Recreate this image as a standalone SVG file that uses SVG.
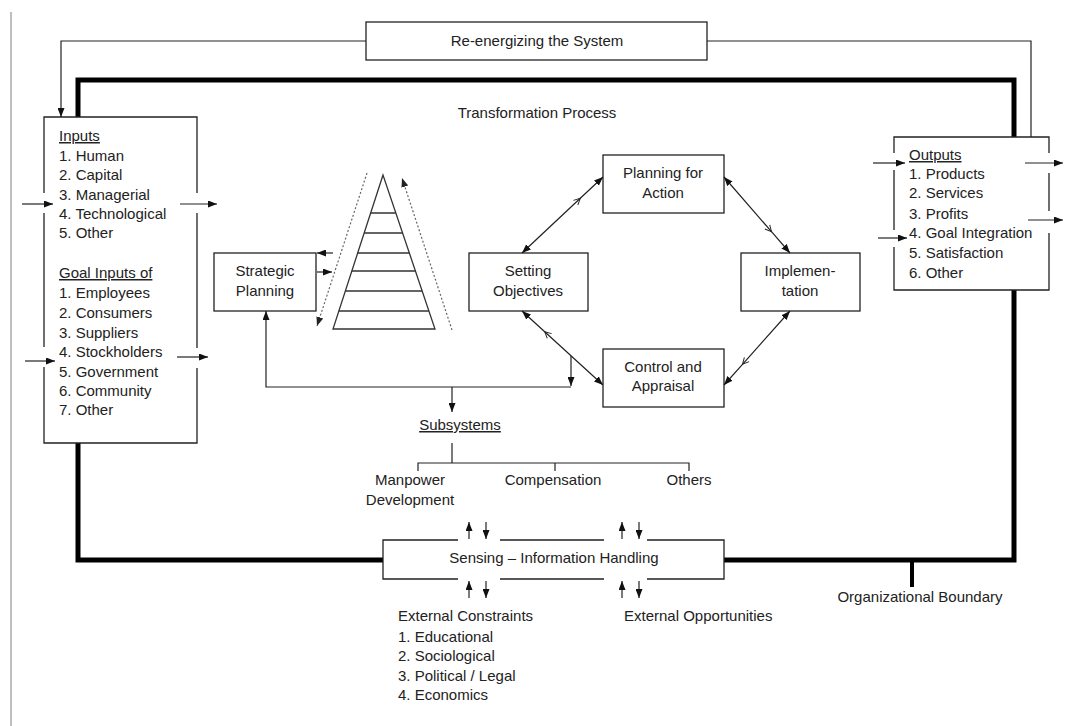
<svg xmlns="http://www.w3.org/2000/svg" width="1067" height="726" viewBox="0 0 1067 726">
  <style>
    text { font-family: "Liberation Sans", Arial, sans-serif; font-size: 15px; fill: #222; }
    .c { text-anchor: middle; }
    .u { text-decoration: underline; }
    .box { fill: none; stroke: #222; stroke-width: 1.3; }
    .ln { fill: none; stroke: #222; stroke-width: 1.2; }
    .thick { fill: none; stroke: #000; stroke-width: 5; stroke-linejoin: miter; }
    .dot { fill: none; stroke: #666; stroke-width: 1.2; stroke-dasharray: 2 2; }
    .pyr { fill: none; stroke: #333; stroke-width: 1.3; }
  </style>
  <defs>
    <marker id="ah" viewBox="0 0 10 10" refX="10" refY="5" markerWidth="9" markerHeight="7" markerUnits="userSpaceOnUse" orient="auto-start-reverse" preserveAspectRatio="none">
      <path d="M0,0 L10,5 L0,10 z" fill="#111"/>
    </marker>
    <marker id="ahg" viewBox="0 0 10 10" refX="10" refY="5" markerWidth="9" markerHeight="7" markerUnits="userSpaceOnUse" orient="auto-start-reverse" preserveAspectRatio="none">
      <path d="M0,0 L10,5 L0,10 z" fill="#222"/>
    </marker>
    <marker id="chev" viewBox="0 0 10 10" refX="9" refY="5" markerWidth="8" markerHeight="8" markerUnits="userSpaceOnUse" orient="auto">
      <path d="M1,1 L9,5 L1,9" fill="none" stroke="#222" stroke-width="1.2"/>
    </marker>
  </defs>

  <!-- page margin rule -->
  <line x1="11" y1="12" x2="11" y2="726" stroke="#aaa" stroke-width="1.5"/>

  <!-- organizational boundary -->
  <g id="boundary">
    <path class="thick" d="M78,117 V80 H1014 V137"/>
    <path class="thick" d="M78,443 V560 H383"/>
    <path class="thick" d="M724,560 H1014 V290"/>
    <line x1="912" y1="560" x2="912" y2="587" stroke="#000" stroke-width="4"/>
    <text class="c" x="920" y="602">Organizational Boundary</text>
  </g>

  <text class="c" x="537" y="118">Transformation Process</text>

  <!-- re-energizing feedback -->
  <g id="reenergizing">
    <rect class="box" x="366" y="22" width="341" height="38"/>
    <text class="c" x="537" y="46">Re-energizing the System</text>
  </g>

  <!-- inputs -->
  <g id="inputs">
    <path class="box" d="M44,193 V117 H197 V193 M197,213 V348 M197,368 V443 H44 V367 M44,347 V213"/>
    <text x="59" y="141" class="u">Inputs</text>
    <text x="59" y="161">1. Human</text>
    <text x="59" y="180">2. Capital</text>
    <text x="59" y="200">3. Managerial</text>
    <text x="59" y="219">4. Technological</text>
    <text x="59" y="238">5. Other</text>
    <text x="59" y="278" class="u">Goal Inputs of</text>
    <text x="59" y="298">1. Employees</text>
    <text x="59" y="318">2. Consumers</text>
    <text x="59" y="338">3. Suppliers</text>
    <text x="59" y="357">4. Stockholders</text>
    <text x="59" y="377">5. Government</text>
    <text x="59" y="396">6. Community</text>
    <text x="59" y="415">7. Other</text>
  </g>

  <!-- outputs -->
  <g id="outputs">
    <path class="box" d="M894,153 V137 H1049 V153 M1049,173 V211 M1049,233 V290 H894 V247 M894,230 V170"/>
    <text x="909" y="160" class="u">Outputs</text>
    <text x="909" y="179">1. Products</text>
    <text x="909" y="198">2. Services</text>
    <text x="909" y="219">3. Profits</text>
    <text x="909" y="238">4. Goal Integration</text>
    <text x="909" y="258">5. Satisfaction</text>
    <text x="909" y="278">6. Other</text>
  </g>

  <g id="strategic-planning">
    <rect class="box" x="214" y="253" width="102" height="58"/>
    <text class="c" x="265" y="276">Strategic</text>
    <text class="c" x="265" y="296">Planning</text>
  </g>

  <!-- hierarchy pyramid -->
  <g id="pyramid">
    <path class="pyr" d="M383,175 L333,329 H435 Z"/>
    <path class="pyr" d="M370.7,213 H395.8 M364.2,233 H402.6 M357.7,253 H409.3 M351.8,271 H415.4 M345.3,291 H422.2 M338.8,311 H428.9"/>
  </g>

  <g id="setting-objectives">
    <rect class="box" x="469" y="253" width="119" height="58"/>
    <text class="c" x="528" y="276">Setting</text>
    <text class="c" x="528" y="296">Objectives</text>
  </g>

  <g id="planning-for-action">
    <rect class="box" x="603" y="155" width="121" height="58"/>
    <text class="c" x="663" y="178">Planning for</text>
    <text class="c" x="663" y="198">Action</text>
  </g>

  <g id="implementation">
    <rect class="box" x="741" y="253" width="119" height="58"/>
    <text class="c" x="800" y="276">Implemen-</text>
    <text class="c" x="800" y="296">tation</text>
  </g>

  <g id="control-appraisal">
    <rect class="box" x="603" y="349" width="121" height="58"/>
    <text class="c" x="663" y="372">Control and</text>
    <text class="c" x="663" y="391">Appraisal</text>
  </g>

  <g id="subsystems">
    <text class="c u" x="460" y="430">Subsystems</text>
    <text class="c" x="410" y="485">Manpower</text>
    <text class="c" x="410" y="505">Development</text>
    <text class="c" x="553" y="485">Compensation</text>
    <text class="c" x="689" y="485">Others</text>
  </g>

  <g id="sensing">
    <path class="box" d="M458,540 H383 V579 H458 M500,579 H604 M647,579 H724 V540 H647 M604,540 H500"/>
    <text class="c" x="554" y="563">Sensing – Information Handling</text>
  </g>

  <g id="external-constraints">
    <text x="398" y="621">External Constraints</text>
    <text x="398" y="642">1. Educational</text>
    <text x="398" y="661">2. Sociological</text>
    <text x="398" y="681">3. Political / Legal</text>
    <text x="398" y="700">4. Economics</text>
  </g>

  <g id="external-opportunities">
    <text x="624" y="621">External Opportunities</text>
  </g>

  <g id="connectors">
    <!-- re-energizing loop -->
    <path class="ln" d="M366,41 H61 V117" marker-end="url(#ah)"/>
    <path class="ln" d="M707,41 H1031 V137"/>

    <!-- inputs flows -->
    <line class="ln" x1="22" y1="204" x2="53" y2="204" marker-end="url(#ah)"/>
    <line class="ln" x1="180" y1="204" x2="217" y2="204" marker-end="url(#ah)"/>
    <line class="ln" x1="25" y1="361" x2="55" y2="361" marker-end="url(#ah)"/>
    <line class="ln" x1="177" y1="357" x2="208" y2="357" marker-end="url(#ah)"/>

    <!-- outputs flows -->
    <line class="ln" x1="873" y1="163" x2="905" y2="163" marker-end="url(#ah)"/>
    <line class="ln" x1="1025" y1="163" x2="1063" y2="163" marker-end="url(#ah)"/>
    <line class="ln" x1="1028" y1="220" x2="1063" y2="220" marker-end="url(#ah)"/>
    <line class="ln" x1="878" y1="238" x2="907" y2="238" marker-end="url(#ah)"/>

    <!-- strategic planning and pyramid -->
    <line class="ln" x1="333" y1="253" x2="317" y2="253" marker-end="url(#ah)"/>
    <line class="ln" x1="317" y1="272" x2="332" y2="272" marker-end="url(#ah)"/>
    <line class="dot" x1="367" y1="173" x2="317" y2="326" marker-end="url(#ahg)"/>
    <line class="dot" x1="452" y1="330" x2="402" y2="178" marker-end="url(#ahg)"/>

    <!-- management cycle -->
    <polyline class="ln" points="522,253 580.3,198.3 603,177" marker-start="url(#ah)" marker-mid="url(#chev)" marker-end="url(#ah)"/>
    <polyline class="ln" points="724,177 771.5,231.7 790,253" marker-start="url(#ah)" marker-mid="url(#chev)" marker-end="url(#ah)"/>
    <polyline class="ln" points="790,311 742.5,364.3 724,385" marker-start="url(#ah)" marker-mid="url(#chev)" marker-end="url(#ah)"/>
    <polyline class="ln" points="603,385 544.7,331.7 522,311" marker-start="url(#ah)" marker-mid="url(#chev)" marker-end="url(#ah)"/>

    <!-- feedback to strategic planning and subsystems -->
    <line class="ln" x1="571" y1="356" x2="571" y2="386" marker-end="url(#ah)"/>
    <path class="ln" d="M571,387 H266 V311" marker-end="url(#ah)"/>
    <line class="ln" x1="452" y1="387" x2="452" y2="412" marker-end="url(#ah)"/>

    <!-- subsystems tree -->
    <path class="ln" d="M452,443 V463 M418,471 V463 H689 V471 M555,463 V471"/>

    <!-- sensing exchanges -->
    <line class="ln" x1="469" y1="539" x2="469" y2="522" marker-end="url(#ah)"/>
    <line class="ln" x1="486" y1="522" x2="486" y2="539" marker-end="url(#ah)"/>
    <line class="ln" x1="622" y1="539" x2="622" y2="522" marker-end="url(#ah)"/>
    <line class="ln" x1="639" y1="522" x2="639" y2="539" marker-end="url(#ah)"/>
    <line class="ln" x1="469" y1="598" x2="469" y2="581" marker-end="url(#ah)"/>
    <line class="ln" x1="486" y1="581" x2="486" y2="598" marker-end="url(#ah)"/>
    <line class="ln" x1="622" y1="598" x2="622" y2="581" marker-end="url(#ah)"/>
    <line class="ln" x1="639" y1="581" x2="639" y2="598" marker-end="url(#ah)"/>
  </g>
</svg>
